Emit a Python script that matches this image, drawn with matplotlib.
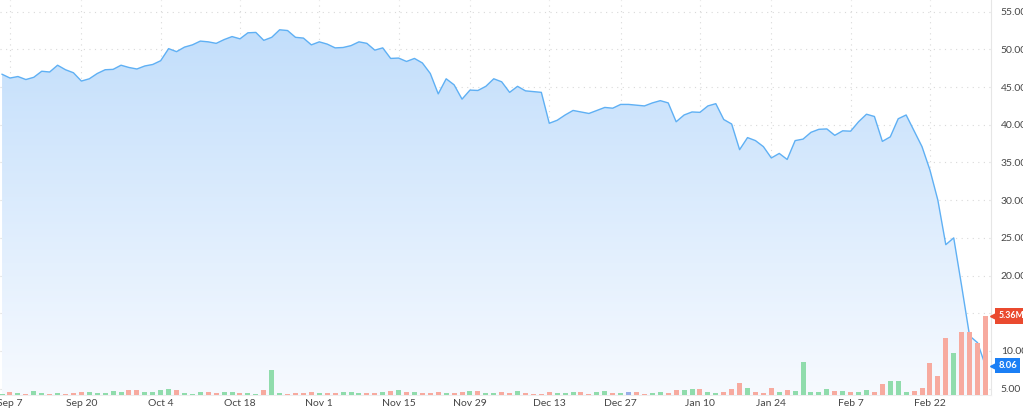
import matplotlib
matplotlib.use('Agg')
import matplotlib.pyplot as plt
import matplotlib.transforms as mtransforms
from matplotlib.patches import Polygon
import numpy as np
import pandas as pd

# trading days Sep 3 2021 .. Mar 3 2022
holidays = ['2021-09-06', '2021-11-25', '2021-12-24', '2022-01-17', '2022-02-21']
dates = pd.bdate_range('2021-09-03', '2022-03-03', freq='C', holidays=holidays)

prices = [
    46.7, 46.2, 46.4, 46.0, 46.3, 47.1, 47.0, 47.9, 47.3, 46.9,
    45.8, 46.1, 46.8, 47.3, 47.35, 47.9, 47.6, 47.4, 47.8, 48.0,
    48.5, 50.1, 49.7, 50.3, 50.6, 51.1, 51.0, 50.8, 51.3, 51.7,
    51.4, 52.2, 52.25, 51.2, 51.6, 52.6, 52.5, 51.6, 51.5, 50.6,
    51.0, 50.7, 50.2, 50.25, 50.5, 51.0, 50.8, 49.9, 50.2, 48.8,
    48.85, 48.4, 48.8, 48.2, 46.8, 44.1, 46.1, 45.3, 43.4, 44.6,
    44.55, 45.1, 46.1, 45.7, 44.3, 45.1, 44.5, 44.4, 44.3, 40.2,
    40.6, 41.3, 41.9, 41.7, 41.5, 41.9, 42.3, 42.2, 42.7, 42.7,
    42.6, 42.5, 42.9, 43.2, 42.9, 40.4, 41.3, 41.7, 41.65, 42.5,
    42.8, 40.7, 40.1, 36.7, 38.3, 37.9, 37.1, 35.6, 36.2, 35.4,
    37.9, 38.1, 39.0, 39.4, 39.45, 38.6, 39.2, 39.15, 40.4, 41.4,
    41.1, 37.8, 38.4, 40.8, 41.3, 39.2, 37.1, 34.0, 30.0, 24.1,
    25.0, 18.6, 12.0, 11.1, 8.06,
]

volumes_m = [
    0.07, 0.18, 0.16, 0.07, 0.25, 0.14, 0.07, 0.12, 0.07, 0.12,
    0.18, 0.20, 0.14, 0.12, 0.27, 0.20, 0.32, 0.34, 0.18, 0.22,
    0.36, 0.39, 0.34, 0.14, 0.09, 0.20, 0.18, 0.16, 0.18, 0.18,
    0.16, 0.14, 0.07, 0.34, 1.68, 0.14, 0.05, 0.16, 0.16, 0.20,
    0.16, 0.16, 0.16, 0.22, 0.18, 0.14, 0.14, 0.14, 0.18, 0.27,
    0.34, 0.18, 0.18, 0.16, 0.16, 0.18, 0.16, 0.12, 0.20, 0.27,
    0.27, 0.16, 0.14, 0.20, 0.16, 0.27, 0.16, 0.09, 0.07, 0.18,
    0.16, 0.12, 0.18, 0.20, 0.09, 0.22, 0.27, 0.16, 0.14, 0.22,
    0.22, 0.09, 0.14, 0.20, 0.14, 0.32, 0.34, 0.43, 0.43, 0.20,
    0.14, 0.22, 0.41, 0.81, 0.47, 0.20, 0.16, 0.50, 0.22, 0.36,
    0.27, 2.26, 0.18, 0.18, 0.39, 0.27, 0.25, 0.20, 0.20, 0.36,
    0.22, 0.75, 0.93, 0.95, 0.22, 0.25, 0.45, 2.15, 1.29, 3.85,
    2.87, 4.25, 4.25, 3.55, 5.36,
]

tick_labels = ['Sep 7', 'Sep 20', 'Oct 4', 'Oct 18', 'Nov 1', 'Nov 15', 'Nov 29',
               'Dec 13', 'Dec 27', 'Jan 10', 'Jan 24', 'Feb 7', 'Feb 22']
tick_dates = ['2021-09-07', '2021-09-20', '2021-10-04', '2021-10-18', '2021-11-01',
              '2021-11-15', '2021-11-29', '2021-12-13', '2021-12-27', '2022-01-10',
              '2022-01-24', '2022-02-07', '2022-02-22']
price_ticks = [5, 10, 15, 20, 25, 30, 35, 40, 45, 50, 55]

plt.rcParams['font.family'] = ['Lato', 'DejaVu Sans']

x = np.arange(len(prices))
p = np.array(prices)
ylo, yhi = 4.16, 56.55

fig = plt.figure(figsize=(10.23, 4.13), dpi=100)
ax = fig.add_axes([0, 0.0436, 991 / 1023, 0.9564])
ax2 = ax.twinx()
ax.set_xlim(-0.26, 124.7)
ax.set_ylim(ylo, yhi)

# gradient area under the price line
verts = [(x[0], ylo)] + list(zip(x, p)) + [(x[-1], ylo)]
poly = Polygon(verts, closed=True, facecolor='none', edgecolor='none')
ax.add_patch(poly)
top = np.array([190, 220, 251]) / 255
bot = np.array([247, 250, 255]) / 255
t = np.linspace(0, 1, 256)[:, None]
grad = (top * (1 - t) + bot * t)[:, None, :]
im = ax.imshow(grad, extent=[x[0], x[-1], ylo, yhi], aspect='auto', origin='upper',
               zorder=1, interpolation='bilinear')
im.set_clip_path(poly)
ax.plot(x, p, color='#5fb0f4', lw=1.0, zorder=3)

# grid
tick_pos = [dates.get_loc(pd.Timestamp(d)) for d in tick_dates]
for yv in price_ticks:
    ax.axhline(yv, color='#d9d9d9', lw=0.8, ls=(0, (1, 4)), zorder=0.5)
for xv in tick_pos:
    ax.axvline(xv, color='#d9d9d9', lw=0.8, ls=(0, (1, 4)), zorder=0.5)

ax.set_xticks(tick_pos)
ax.set_xticklabels(tick_labels)
ax.set_yticks(price_ticks)
ax.set_yticklabels([f'{v:.2f}' for v in price_ticks])
ax.yaxis.tick_right()
ax.yaxis.set_label_position('right')
ax.tick_params(axis='both', length=0, labelsize=7.5, colors='#464646')
ax.tick_params(axis='y', pad=7)
ax.tick_params(axis='x', pad=3)
for s in ['top', 'left']:
    ax.spines[s].set_visible(False)
ax.spines['right'].set_color('#e6e6e6')
ax.spines['bottom'].set_color('#eeeeee')

# volume bars
ax2.set_ylim(0, 26.8)
cols = []
for i in range(len(prices)):
    if i == 0 or p[i] > p[i - 1]:
        cols.append('#90dcac')
    elif p[i] < p[i - 1]:
        cols.append('#f7aa9f')
    else:
        cols.append('#98aee6')
ax2.bar(x, volumes_m, width=0.63, color=cols, zorder=2)
ax2.set_yticks([])
for s in ax2.spines.values():
    s.set_visible(False)

# last value tags
trans_p = mtransforms.blended_transform_factory(ax2.transAxes, ax.transData)
trans_v = mtransforms.blended_transform_factory(ax2.transAxes, ax2.transData)
ax2.plot([1.0035], [prices[-1]], marker='<', ms=5.5, color='#1b7ff5', transform=trans_p,
         clip_on=False, zorder=9)
ax2.text(1.0075, prices[-1], f'{prices[-1]:.2f}', transform=trans_p, color='white',
         fontsize=6.8, fontweight='bold', va='center', ha='left', clip_on=False, zorder=10,
         bbox=dict(boxstyle='square,pad=0.35', fc='#1b7ff5', ec='none'))
ax2.plot([1.0035], [volumes_m[-1]], marker='<', ms=5.5, color='#ea4a2f', transform=trans_v,
         clip_on=False, zorder=9)
ax2.text(1.0072, volumes_m[-1], f'{volumes_m[-1]:.2f}M', transform=trans_v, color='white',
         fontsize=6.3, fontweight='bold', va='center', ha='left', clip_on=False, zorder=10,
         bbox=dict(boxstyle='square,pad=0.35', fc='#ea4a2f', ec='none'))

fig.savefig('out.png', dpi=100)
